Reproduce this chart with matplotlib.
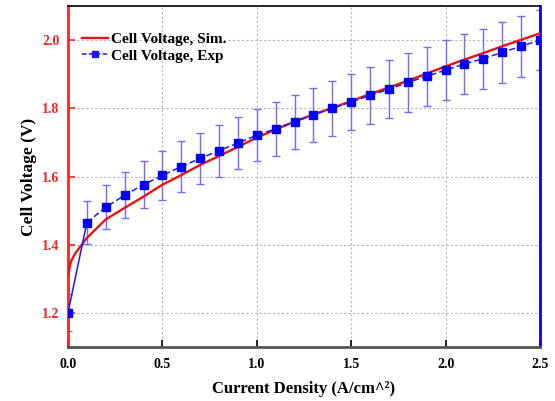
import matplotlib
matplotlib.use("Agg")
import matplotlib.pyplot as plt

# Simulated curve
sim_x = [0.0, 0.015, 0.04, 0.08, 0.1, 0.2, 0.3, 0.4, 0.5, 0.6, 0.7, 0.8, 0.9, 1.0,
         1.1, 1.2, 1.3, 1.4, 1.5, 1.6, 1.7, 1.8, 1.9, 2.0, 2.1, 2.2, 2.3, 2.4, 2.5]
sim_y = [1.31, 1.35, 1.376, 1.405, 1.42, 1.474, 1.508, 1.541, 1.576, 1.604, 1.634, 1.660,
         1.687, 1.714, 1.738, 1.761, 1.782, 1.801, 1.821, 1.842, 1.861, 1.881, 1.902,
         1.923, 1.943, 1.962, 1.982, 2.001, 2.02]

# Experimental points
exp_x = [0.0, 0.1, 0.2, 0.3, 0.4, 0.5, 0.6, 0.7, 0.8, 0.9, 1.0, 1.1, 1.2, 1.3,
         1.4, 1.5, 1.6, 1.7, 1.8, 1.9, 2.0, 2.1, 2.2, 2.3, 2.4, 2.5]
exp_y = [1.20, 1.465, 1.51, 1.545, 1.576, 1.603, 1.629, 1.653, 1.676, 1.698, 1.721,
         1.740, 1.761, 1.781, 1.800, 1.819, 1.838, 1.856, 1.876, 1.894, 1.912, 1.930,
         1.946, 1.964, 1.982, 2.000]
exp_err = [0.054, 0.064, 0.065, 0.067, 0.069, 0.072, 0.074, 0.075, 0.076, 0.077, 0.076,
           0.079, 0.079, 0.080, 0.081, 0.082, 0.084, 0.085, 0.086, 0.086, 0.088, 0.088,
           0.088, 0.089, 0.090, 0.089]

x_ticks = [0.0, 0.5, 1.0, 1.5, 2.0, 2.5]
y_ticks = [1.2, 1.4, 1.6, 1.8, 2.0]

plt.rcParams['font.family'] = ['Liberation Serif', 'DejaVu Serif']
plt.rcParams['font.weight'] = 'bold'

fig = plt.figure(figsize=(5.55, 4.01), dpi=100)
ax = fig.add_axes([0.1225, 0.1347, 0.973 - 0.1225, 0.985 - 0.1347])

ax.set_xlim(0, 2.5)
ax.set_ylim(1.1, 2.1)

ax.grid(True, color='#b5b5b5', linestyle=(0, (2, 2)), linewidth=0.8)
ax.set_axisbelow(True)

ax.errorbar(exp_x, exp_y, yerr=exp_err, fmt='none', ecolor='#6f6fff',
            elinewidth=1.0, capsize=3, capthick=1.0, zorder=2)
ax.plot(sim_x, sim_y, color='#ee1111', linewidth=1.7, zorder=3,
        label='Cell Voltage, Sim.')
ax.plot(exp_x[:2], exp_y[:2], color='#1a1aff', linewidth=1.1, zorder=4)
ax.plot(exp_x[1:], exp_y[1:], color='#1a1aff', linewidth=1.1,
        linestyle=(0, (4, 2)), marker='s', markersize=6, markerfacecolor='#0000ff',
        markeredgecolor='#0000ff', zorder=4)
ax.plot(exp_x[:1], exp_y[:1], color='#0000ff', linestyle='none', marker='s',
        markersize=6, zorder=4)
# legend proxy
ax.plot([], [], color='#1a1aff', linewidth=1.1, linestyle=(0, (3, 1.5)), marker='s',
        markersize=5, label='Cell Voltage, Exp')

ax.spines['left'].set_color('#ff2020')
ax.spines['left'].set_linewidth(2.0)
ax.spines['right'].set_color('#0000ff')
ax.spines['right'].set_linewidth(2.0)
ax.spines['bottom'].set_color('#555555')
ax.spines['bottom'].set_linewidth(2.0)
ax.spines['top'].set_color('black')
ax.spines['top'].set_linewidth(1.2)

ax.set_xticks(x_ticks)
ax.set_xticklabels([f'{v:.1f}' for v in x_ticks])
ax.set_yticks(y_ticks)
ax.set_yticklabels([f'{v:.1f}' for v in y_ticks])
ax.tick_params(axis='x', direction='in', length=5, width=1.2, colors='black',
               labelsize=10, pad=8)
ax.tick_params(axis='y', direction='in', length=5, width=1.2, colors='#ff2020',
               labelsize=10, pad=6)
for lab in ax.get_xticklabels() + ax.get_yticklabels():
    lab.set_fontweight('bold')

ax.set_xlabel('Current Density (A/cm^²)', fontsize=12, fontweight='bold', labelpad=7)
ax.set_ylabel('Cell Voltage (V)', fontsize=12.5, fontweight='bold', labelpad=4)

leg = ax.legend(loc='upper left', bbox_to_anchor=(0.01, 0.95), frameon=False,
                fontsize=11, handlelength=1.7, handletextpad=0.2, labelspacing=0.2,
                borderaxespad=0.2)
for t in leg.get_texts():
    t.set_fontweight('bold')

fig.savefig('out.png', dpi=100)
